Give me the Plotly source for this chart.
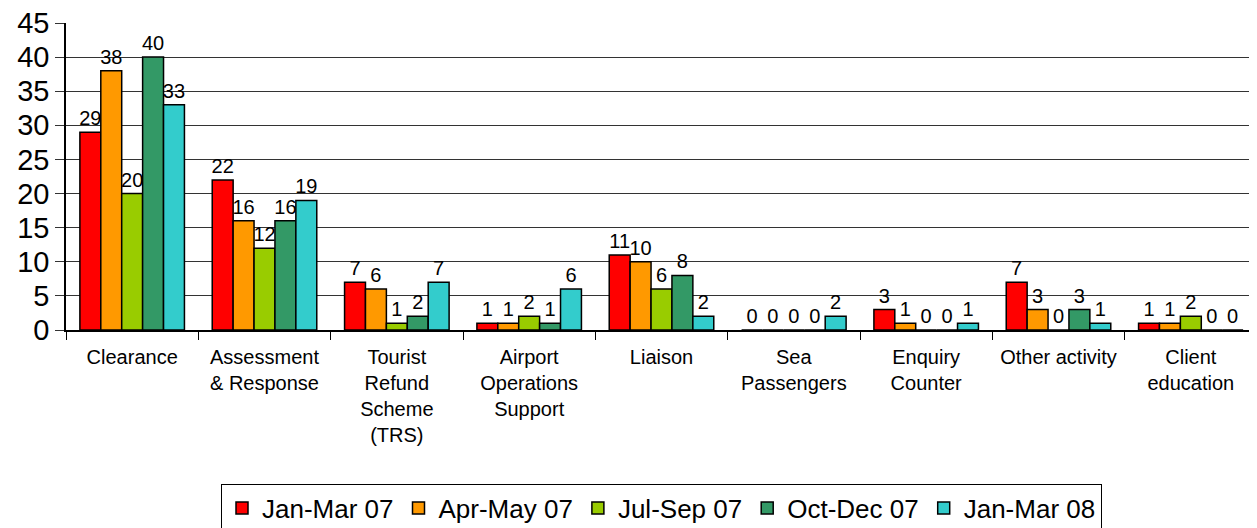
import plotly.graph_objects as go

categories = [
    "Clearance",
    "Assessment<br>& Response",
    "Tourist<br>Refund<br>Scheme<br>(TRS)",
    "Airport<br>Operations<br>Support",
    "Liaison",
    "Sea<br>Passengers",
    "Enquiry<br>Counter",
    "Other activity",
    "Client<br>education",
]

jan_mar_07 = [29, 22, 7, 1, 11, 0, 3, 7, 1]
apr_may_07 = [38, 16, 6, 1, 10, 0, 1, 3, 1]
jul_sep_07 = [20, 12, 1, 2, 6, 0, 0, 0, 2]
oct_dec_07 = [40, 16, 2, 1, 8, 0, 0, 3, 0]
jan_mar_08 = [33, 19, 7, 6, 2, 2, 1, 1, 0]

series = [
    ("Jan-Mar 07", jan_mar_07, "#FF0000"),
    ("Apr-May 07", apr_may_07, "#FF9900"),
    ("Jul-Sep 07", jul_sep_07, "#99CC00"),
    ("Oct-Dec 07", oct_dec_07, "#339966"),
    ("Jan-Mar 08", jan_mar_08, "#33CCCC"),
]

fig = go.Figure()
for name, vals, color in series:
    fig.add_trace(go.Bar(
        x=categories,
        y=vals,
        name=name,
        marker=dict(color=color, line=dict(color="black", width=1.5)),
        text=vals,
        textposition="outside",
        textfont=dict(size=20, color="black"),
        cliponaxis=False,
    ))

# page body has an 8px margin, so the figure is sized to fit the window
fig.update_layout(
    barmode="group",
    bargap=0.21,
    bargroupgap=0,
    width=1249,
    height=520,
    margin=dict(l=58, r=0, t=15, b=198, autoexpand=False),
    paper_bgcolor="white",
    plot_bgcolor="white",
    font=dict(family="Liberation Sans, Arial, sans-serif", color="black"),
    xaxis=dict(
        automargin=False,
        tickfont=dict(size=20),
        ticklabelstandoff=8,
        showline=True,
        linecolor="black",
        linewidth=1.5,
        ticks="outside",
        tickson="boundaries",
        ticklen=8,
        tickcolor="black",
    ),
    yaxis=dict(
        automargin=False,
        range=[0, 45],
        dtick=5,
        tickfont=dict(size=29),
        ticklabeloverflow="allow",
        showgrid=True,
        gridcolor="#333333",
        gridwidth=1,
        showline=True,
        linecolor="black",
        linewidth=1.5,
        ticks="outside",
        ticklen=9,
        tickcolor="#333333",
        zeroline=False,
    ),
    legend=dict(
        orientation="h",
        x=0.5,
        xanchor="center",
        y=-0.5,
        yanchor="top",
        font=dict(size=26),
        bordercolor="black",
        borderwidth=1,
        itemwidth=30,
        tracegroupgap=0,
    ),
    uniformtext=dict(minsize=20, mode="show"),
)

fig.write_html("out.html")
